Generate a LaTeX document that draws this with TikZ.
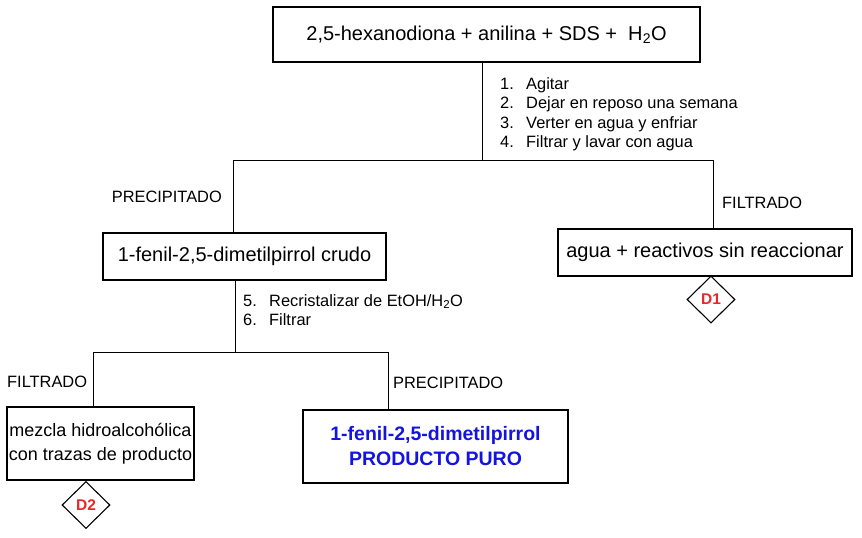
\documentclass[tikz,border=0pt]{standalone}
\usepackage{fontspec}
\setmainfont{Liberation Sans}
\usetikzlibrary{shapes.geometric}
\definecolor{prodblue}{RGB}{20,20,225}
\definecolor{dred}{RGB}{230,40,40}
\begin{document}
\begin{tikzpicture}[x=1pt,y=-1pt,
  box/.style={draw,line width=1.3pt,inner sep=0pt,align=center},
  conn/.style={line width=0.9pt},
  lbl/.style={font=\fontsize{16.4}{19}\selectfont,inner sep=0pt},
  steps/.style={font=\fontsize{16.4}{19.5}\selectfont,inner sep=0pt,align=left,anchor=north west},
  dia/.style={draw,diamond,line width=1.1pt,inner sep=0pt,minimum width=48pt,minimum height=47pt,text=dred,font=\fontsize{15.5}{17}\selectfont\bfseries}
]
\useasboundingbox (0,0) rectangle (862,538);
\newcommand{\numit}[1]{\makebox[26pt][l]{#1}}
% boxes
\node[box,minimum width=427pt,minimum height=55pt,font=\fontsize{20}{24}\selectfont] (top) at (486.5,34.5) {2,5-hexanodiona + anilina + SDS + \ H\textsubscript{2}O};
\node[box,minimum width=283pt,minimum height=47pt,font=\fontsize{20}{24}\selectfont] (crudo) at (244.5,256.5) {1-fenil-2,5-dimetilpirrol crudo};
\node[box,minimum width=294pt,minimum height=47pt,font=\fontsize{20}{24}\selectfont] (agua) at (705,252.5) {agua + reactivos sin reaccionar};
\node[box,minimum width=187pt,minimum height=73pt,font=\fontsize{18}{24}\selectfont] (mezcla) at (100.5,443.5) {mezcla hidroalcohólica\\con trazas de producto};
\node[box,minimum width=265pt,minimum height=73pt,text=prodblue,font=\fontsize{19.5}{25}\selectfont\bfseries] (prod) at (435.5,446.5) {1-fenil-2,5-dimetilpirrol\\PRODUCTO PURO};
\node[dia] (d1) at (711,299.5) {D1};
\node[dia] (d2) at (86,505) {D2};
% junctions
\coordinate (j1) at (482,160);
\coordinate (j1L) at (233,160);
\coordinate (j1R) at (713,160);
\coordinate (j2) at (235,352);
\coordinate (j2L) at (93,352);
\coordinate (j2R) at (388,352);
% connectors
\draw[conn] (top.south -| j1) -- (j1);
\draw[conn] (crudo.north -| j1L) -- (j1L) -- (j1R) -- (agua.north -| j1R);
\draw[conn] (crudo.south -| j2) -- (j2);
\draw[conn] (mezcla.north -| j2L) -- (j2L) -- (j2R) -- (prod.north -| j2R);
% step texts
\node[steps] (s1) at (500,77) {\numit{1.}Agitar\\\numit{2.}Dejar en reposo una semana\\\numit{3.}Verter en agua y enfriar\\\numit{4.}Filtrar y lavar con agua};
\node[steps] (s2) at (243,294) {\numit{5.}Recristalizar de EtOH/H\textsubscript{2}O\\\numit{6.}Filtrar};
% labels
\node[lbl,anchor=east] (l1) at (222,197) {PRECIPITADO};
\node[lbl,anchor=west] (l2) at (722,203) {FILTRADO};
\node[lbl,anchor=west] (l3) at (7,382) {FILTRADO};
\node[lbl,anchor=west] (l4) at (393,383) {PRECIPITADO};
\end{tikzpicture}
\end{document}
